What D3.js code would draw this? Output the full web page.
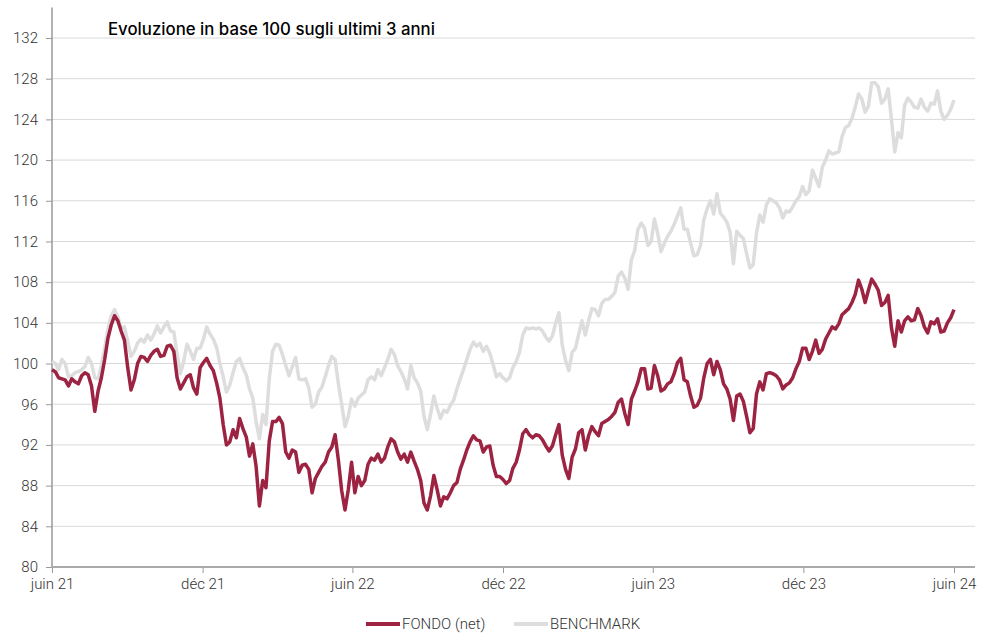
<!DOCTYPE html>
<html lang="it">
<head>
  <meta charset="UTF-8">
  <title>Evoluzione in base 100</title>
  <script src="https://cdn.jsdelivr.net/npm/d3@7"></script>
  <style type="text/css">
    body { margin: 0; background: white; }
    svg { display: block; }
    .lbl { font-family: Roboto, "Open Sans", sans-serif; font-weight: 300; font-size: 15px; fill: #333; }
    .title { font-family: Inter, Lato, sans-serif; font-weight: 500; font-size: 16.8px; fill: #000; }
  </style>
</head>
<body>
<svg id="chart" width="989" height="633"></svg>
<script>

  // one value every 4 days, from 1 June 2021
  const startDate = '2021-06-01', stepDays = 4;

  const fondo = [
    99.4,99.2,98.6,98.5,98.4,97.8,98.5,98.2,98.0,98.8,99.1,98.9,97.8,95.3,97.3,98.6,100.4,102.5,103.8,104.7,
    104.2,103.2,102.3,99.6,97.4,98.4,100.0,100.7,100.6,100.2,100.8,101.2,101.4,100.7,100.8,101.7,101.8,101.2,98.6,97.5,
    98.1,98.7,98.9,97.6,97.0,99.6,100.1,100.5,99.8,99.3,98.1,96.6,94.0,92.0,92.3,93.5,92.7,94.6,93.6,92.8,
    90.9,92.1,89.9,86.0,88.5,87.8,92.4,94.3,94.3,94.7,94.1,91.3,90.7,91.5,91.3,89.3,90.0,90.1,89.6,87.3,
    88.7,89.3,89.9,90.3,91.3,91.8,93.0,90.5,87.5,85.6,87.6,90.3,87.3,88.9,88.0,88.5,90.1,90.7,90.5,91.1,
    90.3,90.7,91.8,92.6,92.3,91.3,90.6,91.1,90.3,91.3,90.4,89.6,88.5,86.3,85.6,87.0,89.0,87.6,86.0,86.9,
    86.7,87.3,88.0,88.3,89.6,90.5,91.5,92.3,92.9,92.5,92.4,91.3,91.8,91.9,90.0,88.9,88.9,88.6,88.2,88.5,
    89.7,90.3,91.5,93.1,93.5,93.0,92.7,93.0,92.9,92.5,91.9,91.4,91.9,93.0,94.0,91.0,89.6,88.7,90.8,91.6,
    93.2,93.5,91.5,92.9,93.8,93.3,92.9,94.1,94.3,94.5,94.8,95.2,96.2,96.5,95.1,94.0,96.5,97.3,98.2,99.5,
    99.5,97.5,97.6,99.8,98.8,97.3,97.5,98.0,98.2,99.0,100.1,100.5,98.4,98.2,96.8,95.7,95.9,96.6,98.6,100.0,
    100.4,98.9,100.2,99.4,98.0,97.5,96.5,94.4,96.8,97.0,96.3,94.8,93.2,93.6,97.0,98.2,97.4,99.0,99.1,99.0,
    98.8,98.4,97.5,97.9,98.1,98.6,99.5,100.2,101.5,101.5,100.4,101.2,102.3,101.0,101.4,102.4,103.0,103.6,103.4,103.9,
    104.8,105.1,105.4,106.0,106.8,108.2,107.3,106.0,107.2,108.3,107.8,107.2,105.7,106.0,106.7,103.5,101.7,104.2,103.1,104.2,
    104.6,104.2,104.3,105.4,104.7,103.6,103.0,104.1,103.9,104.4,103.1,103.2,104.0,104.5,105.3
  ];

  const benchmark = [
    100.2,100.0,99.4,100.4,100.0,98.7,98.8,99.1,99.2,99.4,99.7,100.6,100.0,98.6,98.5,99.8,101.5,103.4,104.7,105.3,
    104.6,103.5,103.6,102.2,100.7,101.2,102.0,102.4,102.1,102.8,102.3,102.9,103.7,103.0,103.6,104.1,103.2,103.1,100.9,99.0,
    100.2,101.9,101.2,100.4,101.5,101.5,102.4,103.6,102.9,102.4,101.6,100.0,98.7,97.2,97.9,99.1,100.2,100.5,99.6,98.9,
    97.5,96.6,94.3,92.6,95.0,94.0,98.5,101.2,101.9,101.8,100.9,99.8,98.8,99.7,100.6,98.5,98.4,98.5,97.6,95.7,
    96.0,97.2,97.7,98.7,99.8,100.7,100.4,98.0,96.0,93.8,94.8,96.5,95.8,96.6,96.9,97.2,98.4,98.7,98.4,99.4,
    98.8,99.6,100.4,101.4,100.9,99.8,99.2,98.5,97.5,99.8,98.6,98.1,97.3,94.8,93.5,95.0,96.8,95.6,94.6,95.4,
    95.2,95.9,96.4,97.5,98.5,99.4,100.4,101.4,102.1,101.7,102.0,101.2,101.7,101.0,99.9,98.7,99.0,98.6,98.3,98.6,
    99.6,100.2,101.1,102.8,103.5,103.4,103.5,103.4,103.5,103.2,102.6,102.2,102.7,104.0,105.0,101.8,100.3,99.3,101.1,101.5,
    102.9,104.2,102.8,104.2,105.4,105.3,104.7,105.9,106.3,106.3,106.6,107.0,108.6,109.0,108.4,107.3,110.2,111.1,113.2,113.8,
    113.3,111.6,112.0,114.2,112.8,111.0,111.8,112.5,113.0,113.7,114.5,115.3,113.2,113.2,111.8,110.6,110.7,111.6,114.1,115.2,
    116.0,114.7,116.7,114.8,114.4,113.9,112.9,109.8,113.0,112.6,112.3,110.8,109.4,109.7,112.8,114.6,113.9,115.6,116.2,116.0,
    115.8,115.3,114.3,115.0,114.9,115.4,116.0,116.4,117.4,116.6,117.0,119.0,118.2,117.4,119.3,120.0,120.9,120.6,120.7,120.8,
    122.3,123.2,123.4,124.1,125.2,126.5,126.0,124.7,125.3,127.6,127.6,127.2,125.6,126.0,127.0,124.0,120.8,122.7,122.2,125.4,
    126.1,125.7,125.2,125.1,126.0,125.2,124.8,125.6,125.5,126.8,124.8,124.0,124.4,125.0,125.9
  ];

  const tickDates  = ['2021-06-01','2021-12-01','2022-06-01','2022-12-01','2023-06-01','2023-12-01','2024-06-01'];
  const tickLabels = ['juin 21','déc 21','juin 22','déc 22','juin 23','déc 23','juin 24'];
  const yTicks = d3.range(80, 133, 4);

  const seriesNames  = ['FONDO (net)', 'BENCHMARK'];
  const seriesColors = ['#9c2442', '#dddddd'];

  const parse = d3.utcParse('%Y-%m-%d');
  const t0 = parse(startDate);
  const dates = fondo.map((d, i) => d3.utcDay.offset(t0, i * stepDays));

  const plotL = 52, plotR = 975, plotT = 38, plotB = 567;

  const x = d3.scaleUtc()
    .domain([parse(tickDates[0]), parse(tickDates[tickDates.length - 1])])
    .range([plotL, 954]);
  const y = d3.scaleLinear().domain([80, 132]).range([plotB, plotT]);

  const svg = d3.select('#chart');

  // horizontal grid
  svg.append('g').selectAll('line').data(yTicks.filter(v => v > 80)).join('line')
    .attr('x1', plotL).attr('x2', plotR)
    .attr('y1', d => y(d)).attr('y2', d => y(d))
    .attr('stroke', '#d9d9d9').attr('stroke-width', 1);

  // y axis
  const yAxis = svg.append('g').attr('transform', `translate(${plotL},0)`)
    .call(d3.axisLeft(y).tickValues(yTicks).tickSize(6).tickPadding(8));
  yAxis.select('.domain').remove();
  yAxis.selectAll('.tick line').attr('stroke', '#999');
  yAxis.selectAll('.tick text').attr('class', 'lbl').attr('fill', null);
  yAxis.append('line')
    .attr('x1', 0).attr('x2', 0).attr('y1', y(135)).attr('y2', plotB)
    .attr('stroke', '#999').attr('stroke-width', 1.5);

  // lines, benchmark under fondo
  const line = d3.line().x((d, i) => x(dates[i])).y(d => y(d));
  [benchmark, fondo].forEach((s, j) => {
    svg.append('path').datum(s)
      .attr('fill', 'none')
      .attr('stroke', seriesColors[1 - j])
      .attr('stroke-width', 3.5)
      .attr('stroke-linejoin', 'round')
      .attr('d', line);
  });

  // x axis
  const xAxis = svg.append('g').attr('transform', `translate(0,${plotB})`)
    .call(d3.axisBottom(x).tickValues(tickDates.map(parse))
      .tickFormat((d, i) => tickLabels[i]).tickSize(6).tickPadding(5));
  xAxis.select('.domain').remove();
  xAxis.selectAll('.tick line').attr('stroke', '#999');
  xAxis.selectAll('.tick text').attr('class', 'lbl').attr('fill', null);
  xAxis.append('line').attr('x1', plotL).attr('x2', plotR)
    .attr('stroke', '#aaa').attr('stroke-width', 2);

  // title
  svg.append('text').attr('class', 'title').attr('x', 108).attr('y', 35)
    .text('Evoluzione in base 100 sugli ultimi 3 anni');

  // legend
  const legendX = [366, 514];
  const leg = svg.append('g').selectAll('g').data(seriesNames).join('g')
    .attr('transform', (d, i) => `translate(${legendX[i]},624)`);
  leg.append('line').attr('x1', 0).attr('x2', 34)
    .attr('stroke', (d, i) => seriesColors[i]).attr('stroke-width', 4);
  leg.append('text').attr('class', 'lbl').attr('x', 36).attr('dy', '0.35em').text(d => d);

</script>
</body>
</html>
